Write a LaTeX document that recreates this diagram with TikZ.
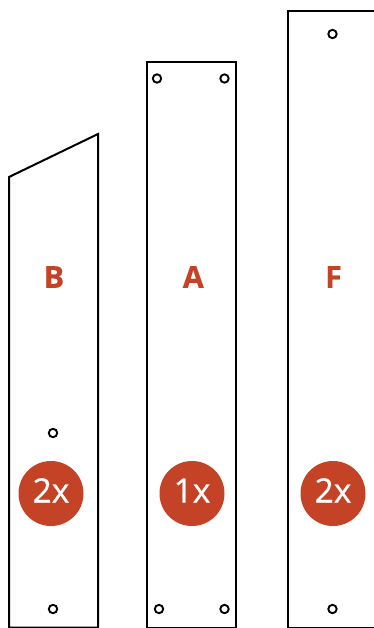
\documentclass[tikz,border=0pt]{standalone}
\usepackage{fontspec}
\setmainfont{Open Sans}
\newfontfamily\badgefont[FakeBold=0.6]{Open Sans}
\newfontfamily\letterfont[FakeBold=0.4]{Open Sans Bold}
\definecolor{rust}{HTML}{C44327}
\definecolor{ink}{HTML}{000000}
\tikzset{
  panel/.style={draw=ink,line width=2pt,fill=white,line join=miter},
  hole/.style={circle,draw=ink,line width=1.9pt,fill=white,minimum size=8.4pt,inner sep=0pt,outer sep=0pt},
  badge/.style={circle,fill=rust,text=white,minimum size=65pt,inner sep=0pt,text height=24pt,text depth=6pt,font=\fontsize{33.5}{33.5}\badgefont},
  letter/.style={text=rust,inner sep=0pt,font=\fontsize{30.5}{30.5}\letterfont}
}
\begin{document}
\begin{tikzpicture}[x=1pt,y=-1pt]
\useasboundingbox (0,0) rectangle (374,628);
\clip (0,0) rectangle (374,628);
\fill[white] (0,0) rectangle (374,628);
\draw[panel] (9,177) -- (98,134) -- (98,627.5) -- (9,627.5) -- cycle;
\draw[panel] (147,62) rectangle (236,627.5);
\draw[panel] (288.4,11) rectangle (380,627.5);
\node[hole] (b1) at (53,433) {};
\node[hole] (b2) at (53,609) {};
\node[hole] (a1) at (157,78.5) {};
\node[hole] (a2) at (224.5,78.5) {};
\node[hole] (a3) at (159,609) {};
\node[hole] (a4) at (224.5,609) {};
\node[hole] (f1) at (332.5,34) {};
\node[hole] (f2) at (332.5,609) {};
\node[letter] (lb) at (54,277) {B};
\node[letter] (la) at (193.3,277) {A};
\node[letter] (lf) at (333.5,277) {F};
\node[badge] (nb) at (51,493.5) {2x};
\node[badge] (na) at (192,493.5) {1x};
\node[badge] (nf) at (333,493.5) {2x};
\end{tikzpicture}
\end{document}
